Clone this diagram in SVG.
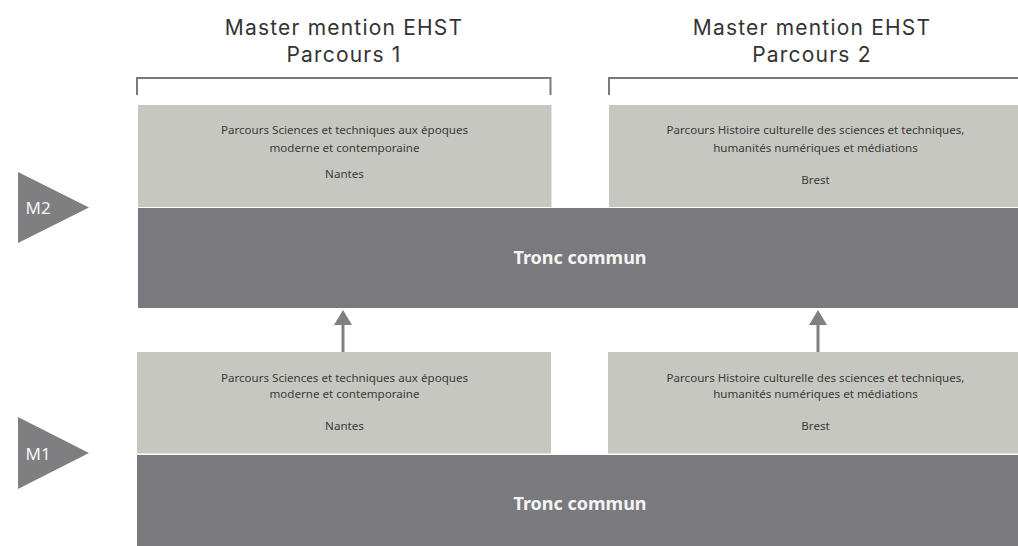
<svg xmlns="http://www.w3.org/2000/svg" width="1018" height="546" viewBox="0 0 1018 546">
<style>
.h{font-family:Inter,"Liberation Sans",sans-serif;font-size:21px;letter-spacing:1.2px;fill:#333;text-anchor:middle}
.t{font-family:"Noto Sans","Liberation Sans",sans-serif;font-size:11.6px;fill:#3a3a3a;text-anchor:middle}
.light{fill:#c7c7c1}
.dark{fill:#7a7a7e}
.tri{fill:#7f7f82}
.tc{font-family:"Noto Sans","Liberation Sans",sans-serif;font-size:18px;font-weight:bold;fill:#f4f4f4;text-anchor:middle}
.m{font-family:"Noto Sans","Liberation Sans",sans-serif;font-size:17px;fill:#f4f4f4}
.br{fill:none;stroke:#7a7a7e;stroke-width:2}
.ar{stroke:#808083;stroke-width:3}
</style>
<defs>
<marker id="ah" markerWidth="5" markerHeight="6" refX="0" refY="3" orient="auto" markerUnits="strokeWidth">
<path d="M0,0 L5,3 L0,6 z" fill="#808083"/>
</marker>
</defs>
<rect width="1018" height="546" fill="#fff"/>
<g id="header1">
<text class="h" x="344" y="35">Master mention EHST</text>
<text class="h" x="344" y="62">Parcours 1</text>
<path class="br" d="M137,95 V78 H550.5 V95"/>
</g>
<g id="header2">
<text class="h" x="812" y="35">Master mention EHST</text>
<text class="h" x="812" y="62">Parcours 2</text>
<path class="br" d="M609,95 V78 H1019"/>
</g>
<g id="m2">
<polygon class="tri" points="18,172 89,207.5 18,243"/>
<text class="m" x="25.5" y="214">M2</text>
</g>
<g id="m1">
<polygon class="tri" points="18,417 89,453 18,489"/>
<text class="m" x="25.5" y="459.5">M1</text>
</g>
<g id="m2-p1">
<rect class="light" x="138" y="105" width="413.5" height="102"/>
<text class="t" x="344.5" y="133.5">Parcours Sciences et techniques aux époques</text>
<text class="t" x="344.5" y="151.5">moderne et contemporaine</text>
<text class="t" x="344.5" y="177.5">Nantes</text>
</g>
<g id="m2-p2">
<rect class="light" x="609" y="105" width="409" height="102"/>
<text class="t" x="815.5" y="133.5">Parcours Histoire culturelle des sciences et techniques,</text>
<text class="t" x="815.5" y="151.5">humanités numériques et médiations</text>
<text class="t" x="815.5" y="183.5">Brest</text>
</g>
<g id="m2-tronc">
<rect class="dark" x="138" y="208" width="880" height="100"/>
<text class="tc" x="580" y="264">Tronc commun</text>
</g>
<g id="m1-p1">
<rect class="light" x="137" y="352" width="414" height="101.5"/>
<text class="t" x="344.5" y="381.5">Parcours Sciences et techniques aux époques</text>
<text class="t" x="344.5" y="397.5">moderne et contemporaine</text>
<text class="t" x="344.5" y="429.5">Nantes</text>
</g>
<g id="m1-p2">
<rect class="light" x="608" y="352" width="410" height="101.5"/>
<text class="t" x="815.5" y="381.5">Parcours Histoire culturelle des sciences et techniques,</text>
<text class="t" x="815.5" y="397.5">humanités numériques et médiations</text>
<text class="t" x="815.5" y="429.5">Brest</text>
</g>
<g id="m1-tronc">
<rect class="dark" x="137" y="455" width="881" height="91"/>
<text class="tc" x="580" y="510">Tronc commun</text>
</g>
<g id="connectors">
<line class="ar" x1="343" y1="352" x2="343" y2="325" marker-end="url(#ah)"/>
<line class="ar" x1="818" y1="352" x2="818" y2="325" marker-end="url(#ah)"/>
</g>
</svg>
